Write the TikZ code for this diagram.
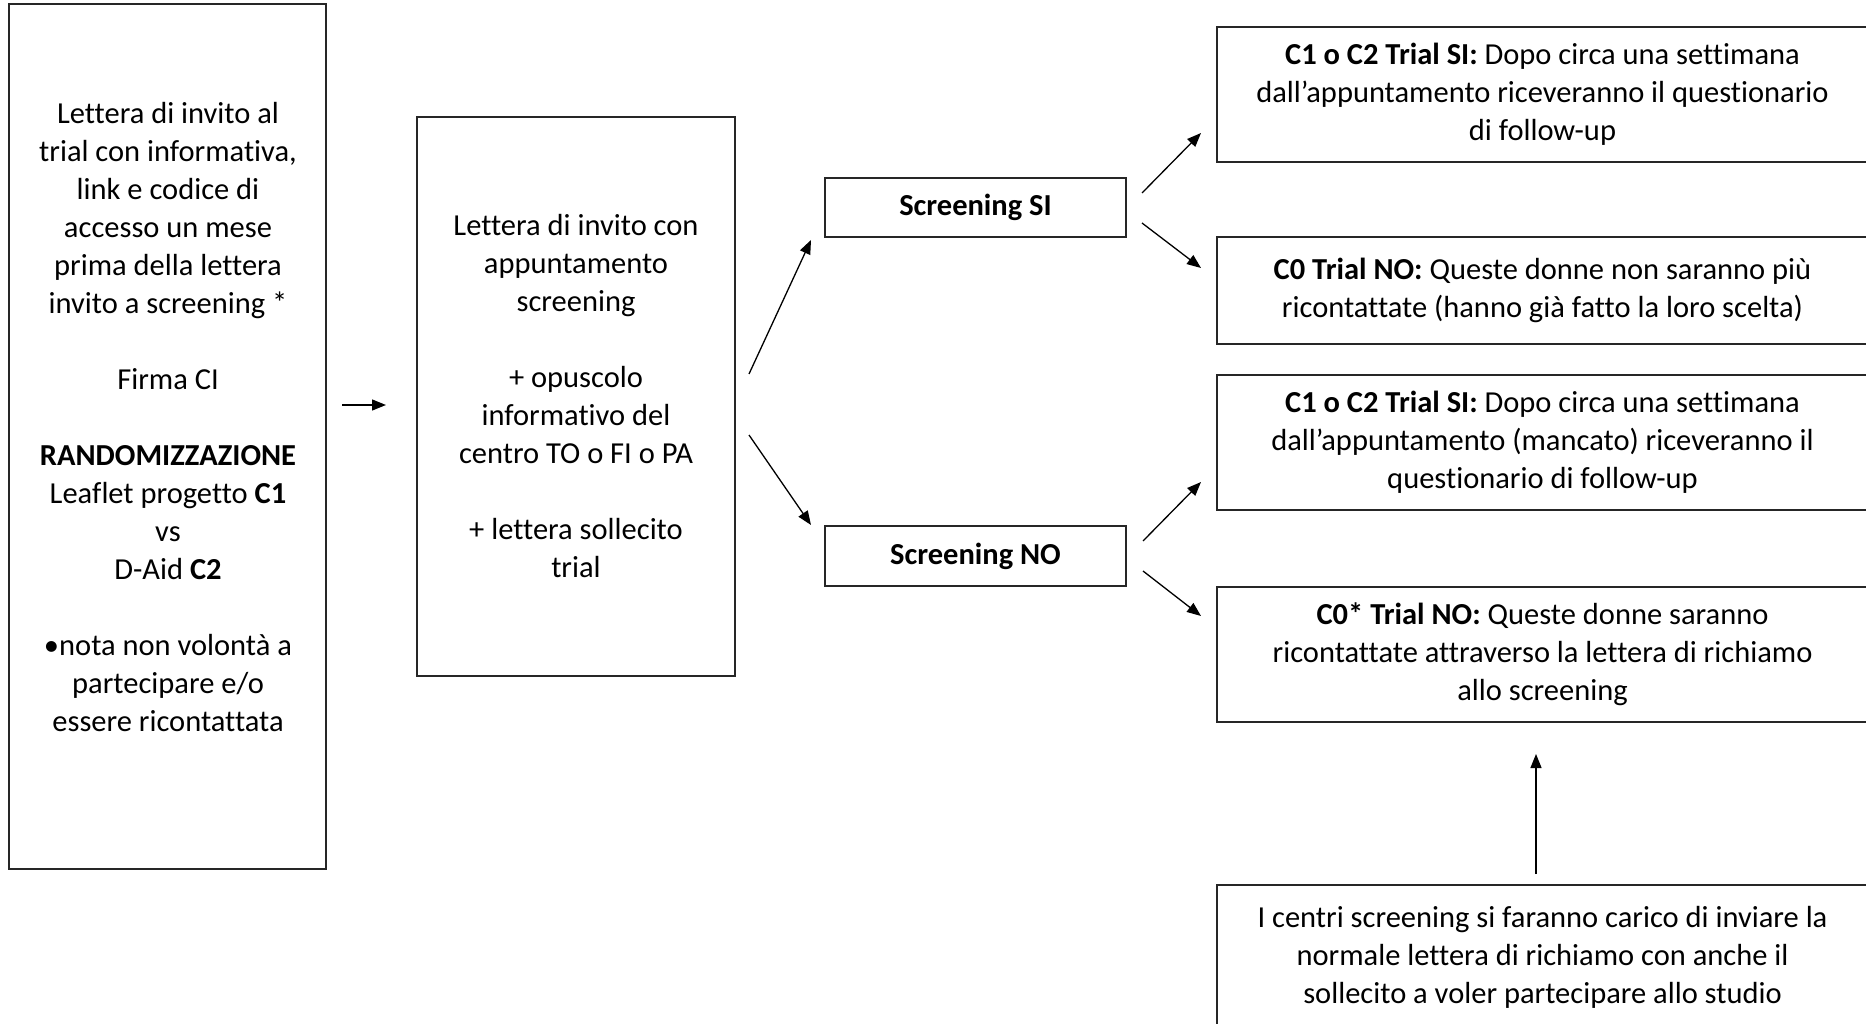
\documentclass[tikz,border=0pt]{standalone}
\usepackage{fontspec}
\setmainfont[Ligatures={NoCommon}]{Carlito}
\usetikzlibrary{arrows.meta,calc}
\begin{document}
\begin{tikzpicture}[x=1pt,y=-1pt,
  box/.style={draw=black!85, line width=1.5pt, inner sep=0pt},
  txt/.style={align=center, font=\fontsize{30.5}{38}\selectfont},
  arr/.style={-{Triangle[length=14pt,width=11pt]}, line width=1.3pt}]
\useasboundingbox (0,0) rectangle (1866,1024);

% left big box
\node[box, minimum width=317pt, minimum height=865pt] (b1) at (167.5,436.5) {};
\node[txt, inner sep=0pt] (t1) at (168,417) {Lettera di invito al\\trial con informativa,\\link e codice di\\accesso un mese\\prima della lettera\\invito a screening *\\[38pt]Firma CI\\[38pt]\textbf{RANDOMIZZAZIONE}\\Leaflet progetto \textbf{C1}\\vs\\D-Aid \textbf{C2}\\[38pt]•nota non volontà a\\partecipare e/o\\essere ricontattata};

% second box
\node[box, txt, minimum width=318pt, minimum height=559pt] (b2) at (576,396.5) {Lettera di invito con\\appuntamento\\screening\\[38pt]+ opuscolo\\informativo del\\centro TO o FI o PA\\[38pt]+ lettera sollecito\\trial};

% screening boxes
\node[box, txt, minimum width=301pt, minimum height=59pt] (si) at (975.5,207.5) {\textbf{Screening SI}};
\node[box, txt, minimum width=301pt, minimum height=60pt] (no) at (975.5,556) {\textbf{Screening NO}};

% right boxes
\node[box, txt, minimum width=651pt, minimum height=135pt] (r1) at (1542.5,94.5) {\textbf{C1 o C2 Trial SI:} Dopo circa una settimana\\dall’appuntamento riceveranno il questionario\\di follow-up};
\node[box, txt, minimum width=651pt, minimum height=107pt] (r2) at (1542.5,290.5) {\textbf{C0 Trial NO:} Queste donne non saranno più\\ricontattate (hanno già fatto la loro scelta)};
\node[box, txt, minimum width=651pt, minimum height=135pt] (r3) at (1542.5,442.5) {\textbf{C1 o C2 Trial SI:} Dopo circa una settimana\\dall’appuntamento (mancato) riceveranno il\\questionario di follow-up};
\node[box, txt, minimum width=651pt, minimum height=135pt] (r4) at (1542.5,654.5) {\textbf{C0* Trial NO:} Queste donne saranno\\ricontattate attraverso la lettera di richiamo\\allo screening};
\node[box, txt, minimum width=651pt, minimum height=144pt] (r5) at (1542.5,957) {I centri screening si faranno carico di inviare la\\normale lettera di richiamo con anche il\\sollecito a voler partecipare allo studio};

% connector end points
\coordinate (a0s) at (342,405);  \coordinate (a0e) at (386,405);
\coordinate (a1s) at (749,374);  \coordinate (a1e) at (811,240);
\coordinate (a2s) at (749,435);  \coordinate (a2e) at (811,525);
\coordinate (a3s) at (1142,193); \coordinate (a3e) at (1201,133);
\coordinate (a4s) at (1142,223); \coordinate (a4e) at (1201,268);
\coordinate (a5s) at (1143,541); \coordinate (a5e) at (1201,482);
\coordinate (a6s) at (1143,571); \coordinate (a6e) at (1201,616);
\coordinate (a7s) at (1536,874); \coordinate (a7e) at (1536,754);

\draw[arr] (a0s) -- (a0e);
\draw[arr] (a1s) -- (a1e);
\draw[arr] (a2s) -- (a2e);
\draw[arr] (a3s) -- (a3e);
\draw[arr] (a4s) -- (a4e);
\draw[arr] (a5s) -- (a5e);
\draw[arr] (a6s) -- (a6e);
\draw[arr] (a7s) -- (a7e);
\end{tikzpicture}
\end{document}
